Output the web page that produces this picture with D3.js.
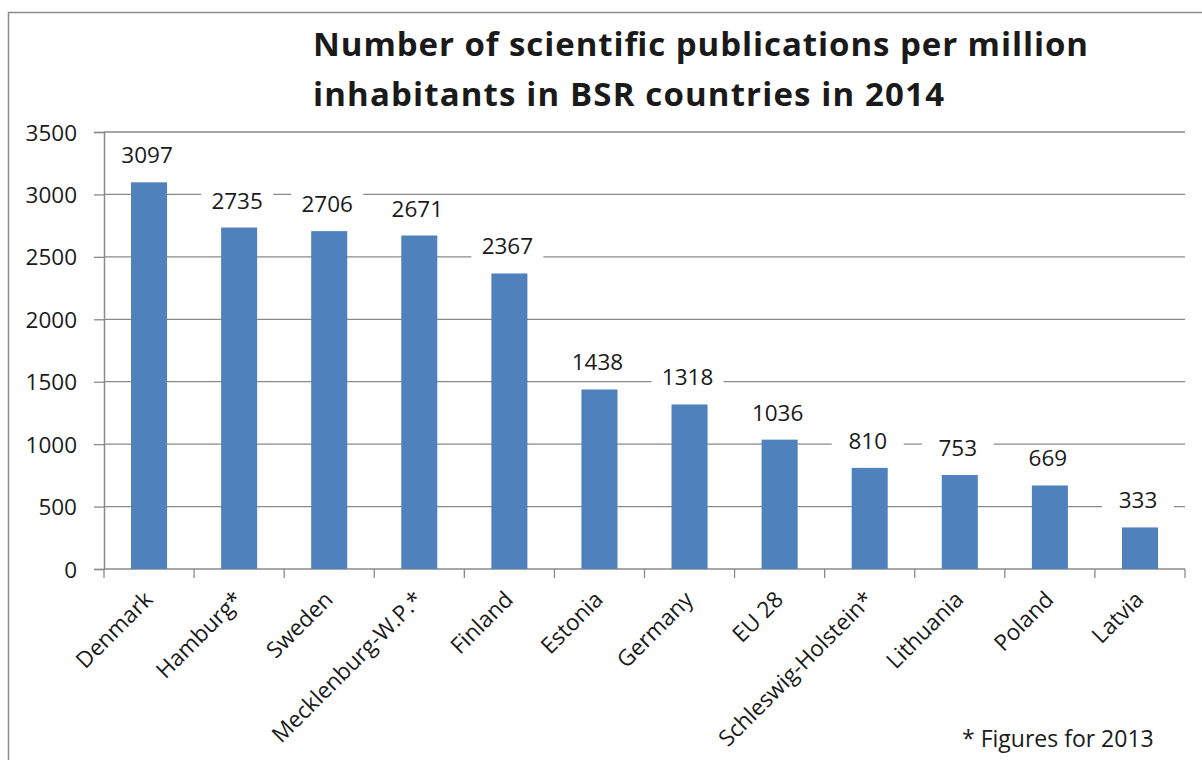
<!DOCTYPE html>
<html>
<head>
<meta charset="utf-8">
<script src="https://cdn.jsdelivr.net/npm/d3@7"></script>
<style>
  html, body { margin: 0; padding: 0; background: #fff; }
  svg { display: block; }
  text { font-family: "Open Sans", "Noto Sans", sans-serif; fill: #1a1a1a; }
</style>
</head>
<body>
<svg id="chart" width="1202" height="760"></svg>
<script>
// Publications per million inhabitants, 2014 (2013 where marked *)
const categories = ["Denmark", "Hamburg*", "Sweden", "Mecklenburg-W.P.*", "Finland", "Estonia",
  "Germany", "EU 28", "Schleswig-Holstein*", "Lithuania", "Poland", "Latvia"];
const values = [3097, 2735, 2706, 2671, 2367, 1438, 1318, 1036, 810, 753, 669, 333];
const yTicks = [0, 500, 1000, 1500, 2000, 2500, 3000, 3500];
const titleLines = ["Number of scientific publications per million", "inhabitants in BSR countries in 2014"];
const footnote = "* Figures for 2013";

const svg = d3.select("#chart");
const margin = { left: 104, right: 1185, top: 132, bottom: 569 };
const gridColor = "#8a8a8a";
const fs = 22.5;

// outer frame
svg.append("rect")
  .attr("x", 8.5).attr("y", 12.5).attr("width", 1300).attr("height", 900)
  .attr("fill", "#fff").attr("stroke", "#8c8c8c").attr("stroke-width", 1.5);

const x = d3.scaleBand().domain(categories).range([margin.left, margin.right]).padding(0);
const y = d3.scaleLinear().domain([0, 3500]).range([margin.bottom, margin.top]);

// horizontal gridlines
svg.append("g").selectAll("line").data(yTicks.filter(d => d > 0)).join("line")
  .attr("x1", margin.left).attr("x2", margin.right)
  .attr("y1", d => y(d)).attr("y2", d => y(d))
  .attr("stroke", gridColor).attr("stroke-width", 1.3);

// y axis
const yAxis = svg.append("g").attr("transform", `translate(${margin.left},0)`)
  .call(d3.axisLeft(y).tickValues(yTicks).tickFormat(d3.format("d")).tickSize(10).tickPadding(17));
yAxis.select(".domain").attr("stroke", gridColor).attr("stroke-width", 1.5);
yAxis.selectAll(".tick line").attr("stroke", gridColor).attr("stroke-width", 1.3);
yAxis.selectAll(".tick text").attr("font-size", fs).attr("fill", "#1a1a1a")
  .attr("font-family", "Open Sans, sans-serif").attr("dy", "0.36em");

// x axis baseline with ticks at category boundaries
const xa = svg.append("g");
xa.append("line").attr("x1", margin.left).attr("x2", margin.right)
  .attr("y1", y(0)).attr("y2", y(0)).attr("stroke", gridColor).attr("stroke-width", 1.5);
const bounds = categories.map(c => x(c)).concat([x(categories[categories.length - 1]) + x.bandwidth()]);
xa.selectAll("line.tk").data(bounds).join("line").attr("class", "tk")
  .attr("x1", d => d).attr("x2", d => d)
  .attr("y1", y(0)).attr("y2", y(0) + 9)
  .attr("stroke", gridColor).attr("stroke-width", 1.3);

// bars
const barW = x.bandwidth() * 0.4;
svg.append("g").selectAll("rect").data(values).join("rect")
  .attr("x", (d, i) => x(categories[i]) + (x.bandwidth() - barW) / 2)
  .attr("y", d => y(d))
  .attr("width", barW)
  .attr("height", d => y(0) - y(d))
  .attr("fill", "#4f81bd");

// value labels with white backing
const labels = svg.append("g").selectAll("g").data(values).join("g")
  .attr("transform", (d, i) => `translate(${x(categories[i]) + x.bandwidth() / 2 - 2},${y(d) - 19})`);
labels.append("rect")
  .attr("x", -36).attr("y", -20).attr("width", 72).attr("height", 26).attr("fill", "#fff");
labels.append("text")
  .attr("text-anchor", "middle").attr("font-size", fs)
  .text(d => d);

// category labels, rotated
svg.append("g").selectAll("text").data(categories).join("text")
  .attr("transform", c => `translate(${x(c) + x.bandwidth() / 2 + 5},${y(0) + 32}) rotate(-45)`)
  .attr("text-anchor", "end").attr("font-size", fs)
  .text(c => c);

// title
svg.append("g").selectAll("text").data(titleLines).join("text")
  .attr("x", 313).attr("y", (d, i) => 56 + i * 50)
  .attr("font-size", 33).attr("font-weight", "bold")
  .attr("textLength", (d, i) => i === 0 ? 775 : 631)
  .attr("lengthAdjust", "spacing")
  .text(d => d);

// footnote
svg.append("text").attr("x", 962).attr("y", 747).attr("font-size", 23).text(footnote);
</script>
</body>
</html>
